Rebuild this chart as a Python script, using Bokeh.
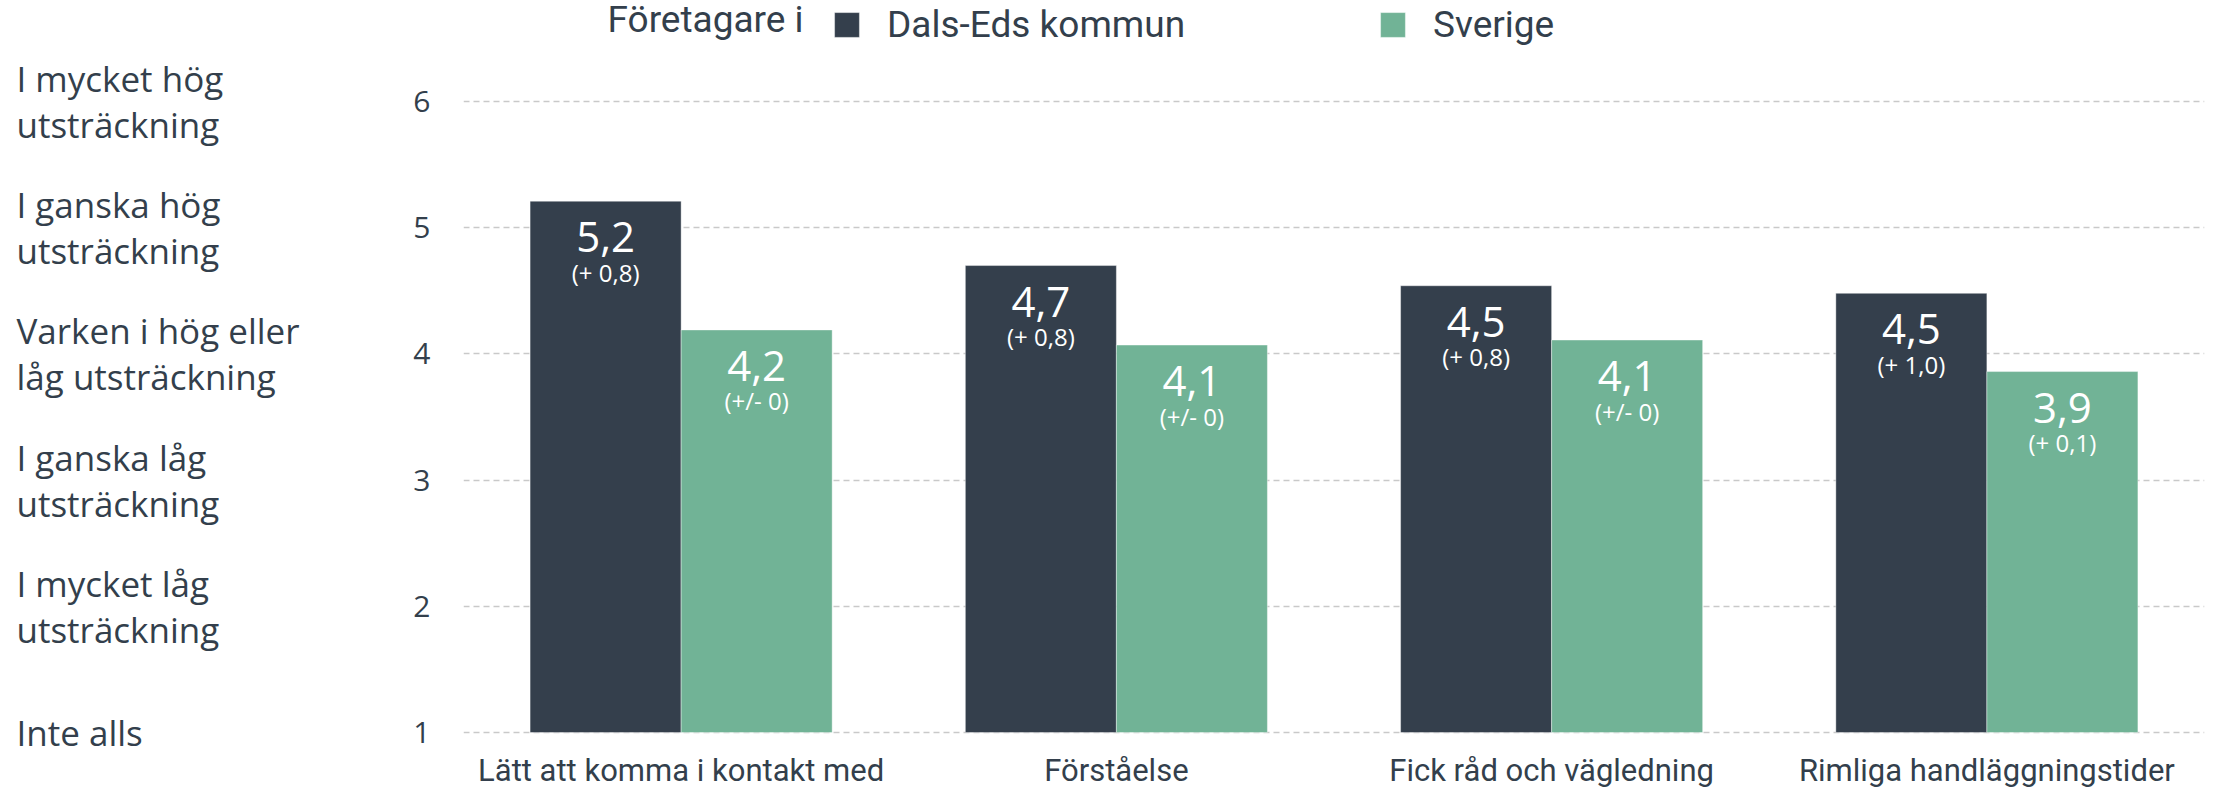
from bokeh.plotting import figure
from bokeh.models import ColumnDataSource, Range1d, FactorRange, FixedTicker, Label, Legend
from bokeh.layouts import row
from bokeh.transform import dodge
from bokeh.core.properties import value
from bokeh.embed import file_html
from bokeh.resources import INLINE

categories = ["Lätt att komma i kontakt med", "Förståelse", "Fick råd och vägledning", "Rimliga handläggningstider"]
kommun = [5.21, 4.70, 4.54, 4.48]
sverige = [4.19, 4.07, 4.11, 3.86]
kommun_labels = ["5,2", "4,7", "4,5", "4,5"]
sverige_labels = ["4,2", "4,1", "4,1", "3,9"]
kommun_change = ["(+ 0,8)", "(+ 0,8)", "(+ 0,8)", "(+ 1,0)"]
sverige_change = ["(+/- 0)", "(+/- 0)", "(+/- 0)", "(+ 0,1)"]
y_ticks = [1, 2, 3, 4, 5, 6]
y_tick_texts = ["Inte alls", "I mycket låg\nutsträckning", "I ganska låg\nutsträckning",
                "Varken i hög eller\nlåg utsträckning", "I ganska hög\nutsträckning",
                "I mycket hög\nutsträckning"]
series_names = ["Dals-Eds kommun", "Sverige"]
legend_title = "Företagare i"

DARK = "#343f4c"
GREEN = "#71b396"
TXT = "#333f4c"

W, H = 2214, 788
LEFT_W = 380
MAIN_W = W - LEFT_W
PPU = 126.2              # pixels per scale unit
TOP_PX = 101             # pixel position of value 6
y_end = 6 + TOP_PX / PPU
y_range = Range1d(y_end - H / PPU, y_end)
base = min(y_ticks)

src = ColumnDataSource(dict(cat=categories, k=kommun, s=sverige, kl=kommun_labels,
                            sl=sverige_labels, kc=kommun_change, sc=sverige_change,
                            b=[base] * len(categories)))

# ---------- left panel with descriptive scale labels ----------
left = figure(x_range=Range1d(0, LEFT_W), y_range=y_range, width=LEFT_W, height=H,
              output_backend="svg", toolbar_location=None, x_axis_type=None, y_axis_type=None,
              min_border_left=0, min_border_right=0, min_border_top=0, min_border_bottom=0)
left.outline_line_color = None
left.xgrid.visible = False
left.ygrid.visible = False
lsrc = ColumnDataSource(dict(y=y_ticks, t=y_tick_texts, x=[16] * len(y_ticks)))
left.text(x="x", y="y", text="t", source=lsrc, text_align="left", text_baseline="middle",
          text_font=value("Open Sans"), text_font_size="35px", text_color=TXT,
          text_line_height=0.98)

# ---------- main chart ----------
p = figure(x_range=FactorRange(*categories), y_range=y_range, x_axis_location=None,
           width=MAIN_W, height=H, output_backend="svg", toolbar_location=None,
           min_border_left=463 - LEFT_W, min_border_right=10, min_border_top=0,
           min_border_bottom=0)
p.outline_line_color = None
p.background_fill_color = "white"
p.border_fill_color = "white"

bw = 0.347
r1 = p.vbar(x=dodge("cat", -bw / 2, range=p.x_range), top="k", bottom="b", width=bw, source=src,
            fill_color=DARK, line_color="white", line_width=1, line_alpha=0.4)
r2 = p.vbar(x=dodge("cat", bw / 2, range=p.x_range), top="s", bottom="b", width=bw, source=src,
            fill_color=GREEN, line_color="white", line_width=1, line_alpha=0.4)

for off, top, lab, ch in [(-bw / 2, "k", "kl", "kc"), (bw / 2, "s", "sl", "sc")]:
    p.text(x=dodge("cat", off, range=p.x_range), y=top, text=lab, source=src, y_offset=36,
           text_align="center", text_baseline="middle", text_color="white",
           text_font=value("Open Sans"), text_font_size="42px")
    p.text(x=dodge("cat", off, range=p.x_range), y=top, text=ch, source=src, y_offset=71,
           text_align="center", text_baseline="middle", text_color="white",
           text_font=value("Open Sans"), text_font_size="24px")

# category labels under each group (placed by the categorical scale)
p.text(x="cat", y="b", text="cat", source=src, y_offset=38, text_align="center",
       text_baseline="middle", text_color=TXT, text_font=value("Roboto"),
       text_font_size="31px")

# y axis with scale numbers
p.yaxis.ticker = FixedTicker(ticks=y_ticks)
p.yaxis.axis_line_color = None
p.yaxis.major_tick_line_color = None
p.yaxis.minor_tick_line_color = None
p.yaxis.major_tick_out = 0
p.yaxis.major_tick_in = 0
p.yaxis.major_label_standoff = 33
p.yaxis.major_label_text_font = "Open Sans"
p.yaxis.major_label_text_font_size = "30px"
p.yaxis.major_label_text_color = TXT

p.xgrid.grid_line_color = None
p.ygrid.ticker = FixedTicker(ticks=y_ticks)
p.ygrid.grid_line_color = "#c9c9c9"
p.ygrid.grid_line_dash = "6 4"
p.ygrid.grid_line_width = 1.5

# legend in the top area of the frame
p.add_layout(Label(x=144, y=H - 18.5, x_units="screen", y_units="screen", text=legend_title,
                   text_align="left", text_baseline="middle", text_font="Roboto",
                   text_font_size="37px", text_color=TXT))
legend = Legend(items=[(series_names[0], [r1]), (series_names[1], [r2])],
                location=(368, H - 45.5), orientation="horizontal", padding=0, margin=0,
                spacing=0, glyph_width=31, glyph_height=31, label_standoff=25,
                label_width=490, label_text_font="Roboto", label_text_font_size="37px",
                label_text_color=TXT, border_line_color=None, background_fill_alpha=0)
p.add_layout(legend, "center")

layout = row(left, p, spacing=0)
open("out.html", "w").write(file_html(layout, INLINE))
